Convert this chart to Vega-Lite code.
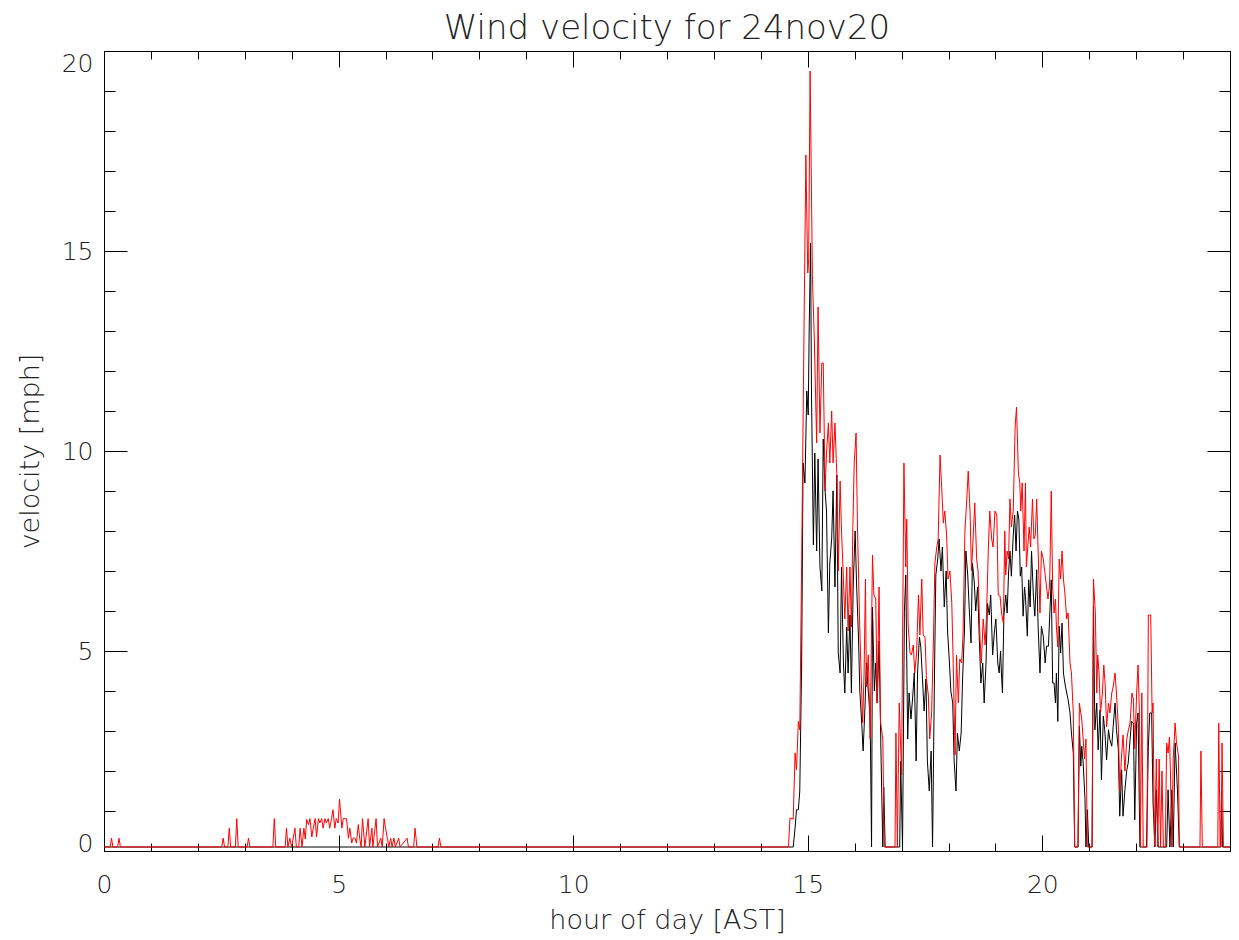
{
"$schema": "https://vega.github.io/schema/vega-lite/v6.json",
"width": 1126, "height": 800,
"autosize": "none",
"padding": {"left": 104, "top": 51, "right": 9, "bottom": 89},
"background": "white",
"title": {"text": "Wind velocity for 24nov20", "fontSize": 34, "font": "DejaVu Sans", "fontWeight": 200, "color": "#222", "offset": 5, "anchor": "middle"},
"config": {"view": {"stroke": null}, "axis": {"grid": false, "domainColor": "#000", "tickColor": "#000", "domainWidth": 1, "tickWidth": 1, "labelFont": "DejaVu Sans", "titleFont": "DejaVu Sans", "labelFontSize": 25, "titleFontSize": 27, "labelColor": "#222", "titleColor": "#222", "titleFontWeight": 200, "labelFontWeight": 200}},
"datasets": {
"mean": [
{"h":0,"v":0.1},{"h":14.69,"v":0.1},{"h":14.73,"v":0.58},{"h":14.76,"v":1.03},{"h":14.8,"v":1.03},{"h":14.83,"v":1.5},{"h":14.87,"v":4.7},{"h":14.9,"v":9.7},{"h":14.94,"v":9.2},{"h":14.98,"v":11.5},{"h":15.01,"v":10.9},{"h":15.03,"v":13.0},{"h":15.06,"v":15.2},{"h":15.08,"v":11.4},{"h":15.12,"v":7.65},{"h":15.15,"v":9.95},{"h":15.19,"v":7.5},{"h":15.22,"v":9.8},{"h":15.26,"v":7.1},{"h":15.3,"v":6.5},{"h":15.33,"v":10.3},{"h":15.37,"v":9.0},{"h":15.4,"v":8.5},{"h":15.44,"v":5.45},{"h":15.47,"v":7.2},{"h":15.51,"v":7.8},{"h":15.54,"v":9.0},{"h":15.58,"v":6.6},{"h":15.62,"v":9.4},{"h":15.65,"v":4.95},{"h":15.69,"v":4.45},{"h":15.72,"v":7.1},{"h":15.76,"v":4.7},{"h":15.79,"v":3.95},{"h":15.83,"v":5.6},{"h":15.86,"v":4.45},{"h":15.9,"v":5.9},{"h":15.93,"v":3.95},{"h":15.97,"v":6.7},{"h":16.01,"v":8.0},{"h":16.04,"v":6.7},{"h":16.08,"v":5.4},{"h":16.11,"v":4.0},{"h":16.15,"v":3.2},{"h":16.18,"v":2.5},{"h":16.22,"v":3.6},{"h":16.25,"v":4.7},{"h":16.29,"v":4.0},{"h":16.33,"v":3.4},{"h":16.36,"v":0.1},{"h":16.38,"v":6.1},{"h":16.42,"v":4.0},{"h":16.45,"v":4.7},{"h":16.48,"v":3.7},{"h":16.52,"v":5.25},{"h":16.56,"v":2.5},{"h":16.6,"v":0.1},{"h":16.62,"v":1.6},{"h":16.65,"v":0.1},{"h":16.96,"v":0.1},{"h":16.98,"v":2.25},{"h":17.02,"v":0.1},{"h":17.06,"v":6.0},{"h":17.09,"v":6.9},{"h":17.13,"v":2.8},{"h":17.16,"v":3.95},{"h":17.2,"v":3.3},{"h":17.24,"v":3.9},{"h":17.27,"v":4.45},{"h":17.31,"v":2.25},{"h":17.34,"v":4.45},{"h":17.38,"v":5.35},{"h":17.41,"v":5.1},{"h":17.45,"v":4.2},{"h":17.48,"v":3.5},{"h":17.52,"v":4.3},{"h":17.55,"v":2.25},{"h":17.59,"v":1.5},{"h":17.63,"v":2.5},{"h":17.66,"v":0.1},{"h":17.7,"v":4.3},{"h":17.73,"v":6.9},{"h":17.77,"v":7.3},{"h":17.8,"v":7.8},{"h":17.84,"v":7.0},{"h":17.87,"v":7.6},{"h":17.91,"v":6.1},{"h":17.95,"v":7.0},{"h":17.98,"v":5.5},{"h":18.02,"v":4.7},{"h":18.05,"v":4.0},{"h":18.09,"v":3.7},{"h":18.12,"v":2.25},{"h":18.16,"v":1.5},{"h":18.19,"v":2.95},{"h":18.23,"v":2.5},{"h":18.27,"v":2.95},{"h":18.3,"v":4.3},{"h":18.34,"v":5.5},{"h":18.37,"v":7.5},{"h":18.41,"v":6.9},{"h":18.44,"v":6.1},{"h":18.48,"v":5.2},{"h":18.51,"v":7.2},{"h":18.55,"v":6.7},{"h":18.58,"v":6.0},{"h":18.62,"v":6.6},{"h":18.66,"v":5.2},{"h":18.69,"v":4.2},{"h":18.73,"v":4.7},{"h":18.76,"v":3.7},{"h":18.8,"v":4.7},{"h":18.83,"v":6.2},{"h":18.87,"v":5.9},{"h":18.9,"v":6.4},{"h":18.94,"v":4.9},{"h":18.98,"v":5.5},{"h":19.01,"v":5.8},{"h":19.05,"v":4.7},{"h":19.08,"v":4.45},{"h":19.11,"v":5.0},{"h":19.13,"v":4.4},{"h":19.15,"v":3.95},{"h":19.18,"v":5.87},{"h":19.22,"v":6.4},{"h":19.25,"v":5.95},{"h":19.28,"v":6.95},{"h":19.31,"v":7.5},{"h":19.34,"v":6.87},{"h":19.38,"v":7.9},{"h":19.41,"v":8.4},{"h":19.44,"v":7.5},{"h":19.47,"v":8.5},{"h":19.5,"v":8.3},{"h":19.53,"v":6.87},{"h":19.56,"v":7.1},{"h":19.59,"v":5.87},{"h":19.62,"v":6.6},{"h":19.64,"v":6.37},{"h":19.68,"v":5.37},{"h":19.71,"v":6.78},{"h":19.74,"v":6.1},{"h":19.77,"v":7.5},{"h":19.81,"v":6.37},{"h":19.84,"v":5.87},{"h":19.88,"v":7.03},{"h":19.91,"v":5.62},{"h":19.95,"v":4.45},{"h":19.98,"v":5.62},{"h":20.02,"v":5.37},{"h":20.06,"v":4.7},{"h":20.09,"v":5.12},{"h":20.13,"v":5.12},{"h":20.16,"v":5.95},{"h":20.19,"v":6.78},{"h":20.22,"v":4.2},{"h":20.25,"v":4.2},{"h":20.28,"v":3.7},{"h":20.3,"v":4.45},{"h":20.33,"v":3.24},{"h":20.36,"v":5.62},{"h":20.39,"v":4.95},{"h":20.42,"v":5.7},{"h":20.45,"v":4.45},{"h":20.48,"v":4.2},{"h":20.52,"v":3.95},{"h":20.55,"v":3.78},{"h":20.59,"v":3.45},{"h":20.62,"v":2.95},{"h":20.66,"v":2.45},{"h":20.69,"v":0.1},{"h":20.76,"v":0.1},{"h":20.79,"v":3.12},{"h":20.82,"v":2.12},{"h":20.84,"v":2.62},{"h":20.87,"v":2.2},{"h":20.91,"v":1.28},{"h":20.93,"v":0.1},{"h":20.96,"v":1.03},{"h":20.99,"v":0.1},{"h":21.06,"v":0.1},{"h":21.09,"v":6.12},{"h":21.12,"v":3.03},{"h":21.16,"v":3.7},{"h":21.19,"v":2.53},{"h":21.23,"v":3.53},{"h":21.26,"v":1.78},{"h":21.3,"v":3.37},{"h":21.33,"v":3.03},{"h":21.37,"v":2.28},{"h":21.41,"v":3.03},{"h":21.44,"v":2.78},{"h":21.48,"v":2.62},{"h":21.51,"v":3.12},{"h":21.55,"v":3.7},{"h":21.58,"v":3.03},{"h":21.62,"v":2.53},{"h":21.65,"v":0.87},{"h":21.69,"v":2.03},{"h":21.72,"v":0.87},{"h":21.76,"v":1.53},{"h":21.8,"v":2.03},{"h":21.83,"v":2.2},{"h":21.87,"v":2.78},{"h":21.9,"v":3.24},{"h":21.94,"v":3.2},{"h":21.97,"v":0.78},{"h":22.01,"v":3.2},{"h":22.04,"v":3.45},{"h":22.08,"v":0.1},{"h":22.22,"v":0.1},{"h":22.26,"v":2.62},{"h":22.29,"v":3.45},{"h":22.33,"v":3.45},{"h":22.36,"v":1.2},{"h":22.4,"v":0.1},{"h":22.43,"v":1.53},{"h":22.47,"v":0.1},{"h":22.65,"v":0.1},{"h":22.68,"v":1.53},{"h":22.72,"v":0.1},{"h":22.76,"v":1.53},{"h":22.79,"v":0.1},{"h":22.83,"v":2.7},{"h":22.88,"v":1.53},{"h":22.92,"v":0.1},{"h":23.8,"v":0.1},{"h":23.82,"v":1.5},{"h":23.84,"v":0.1},{"h":24.0,"v":0.1}
],
"gust": [
{"h":0,"v":0.1},{"h":0.13,"v":0.1},{"h":0.16,"v":0.32},{"h":0.19,"v":0.1},{"h":0.29,"v":0.1},{"h":0.32,"v":0.32},{"h":0.35,"v":0.1},{"h":2.51,"v":0.1},{"h":2.54,"v":0.32},{"h":2.57,"v":0.1},{"h":2.64,"v":0.1},{"h":2.67,"v":0.57},{"h":2.7,"v":0.1},{"h":2.8,"v":0.1},{"h":2.83,"v":0.81},{"h":2.86,"v":0.1},{"h":3.05,"v":0.1},{"h":3.08,"v":0.32},{"h":3.11,"v":0.1},{"h":3.6,"v":0.1},{"h":3.63,"v":0.81},{"h":3.66,"v":0.1},{"h":3.86,"v":0.1},{"h":3.89,"v":0.57},{"h":3.92,"v":0.1},{"h":3.96,"v":0.32},{"h":4.0,"v":0.1},{"h":4.07,"v":0.57},{"h":4.1,"v":0.1},{"h":4.15,"v":0.1},{"h":4.18,"v":0.57},{"h":4.22,"v":0.1},{"h":4.26,"v":0.57},{"h":4.29,"v":0.3},{"h":4.32,"v":0.79},{"h":4.36,"v":0.66},{"h":4.39,"v":0.81},{"h":4.43,"v":0.35},{"h":4.46,"v":0.57},{"h":4.5,"v":0.81},{"h":4.53,"v":0.35},{"h":4.57,"v":0.81},{"h":4.6,"v":0.7},{"h":4.64,"v":0.81},{"h":4.67,"v":0.57},{"h":4.71,"v":0.81},{"h":4.74,"v":0.7},{"h":4.78,"v":0.81},{"h":4.81,"v":0.57},{"h":4.85,"v":0.81},{"h":4.88,"v":1.03},{"h":4.92,"v":0.57},{"h":4.95,"v":0.81},{"h":4.99,"v":0.7},{"h":5.02,"v":1.3},{"h":5.07,"v":0.57},{"h":5.1,"v":0.81},{"h":5.14,"v":0.81},{"h":5.17,"v":0.81},{"h":5.21,"v":0.32},{"h":5.24,"v":0.57},{"h":5.28,"v":0.2},{"h":5.31,"v":0.32},{"h":5.35,"v":0.32},{"h":5.38,"v":0.2},{"h":5.42,"v":0.66},{"h":5.45,"v":0.32},{"h":5.48,"v":0.1},{"h":5.51,"v":0.81},{"h":5.56,"v":0.1},{"h":5.63,"v":0.81},{"h":5.66,"v":0.1},{"h":5.71,"v":0.57},{"h":5.73,"v":0.1},{"h":5.8,"v":0.81},{"h":5.83,"v":0.1},{"h":5.9,"v":0.32},{"h":5.93,"v":0.1},{"h":5.97,"v":0.81},{"h":6.0,"v":0.57},{"h":6.04,"v":0.32},{"h":6.07,"v":0.1},{"h":6.11,"v":0.32},{"h":6.14,"v":0.1},{"h":6.18,"v":0.32},{"h":6.21,"v":0.1},{"h":6.28,"v":0.32},{"h":6.31,"v":0.1},{"h":6.46,"v":0.32},{"h":6.49,"v":0.1},{"h":6.6,"v":0.1},{"h":6.63,"v":0.57},{"h":6.67,"v":0.1},{"h":7.12,"v":0.1},{"h":7.15,"v":0.32},{"h":7.18,"v":0.1},{"h":14.59,"v":0.1},
{"h":14.62,"v":0.82},{"h":14.69,"v":0.8},{"h":14.73,"v":2.45},{"h":14.76,"v":2.03},{"h":14.8,"v":3.24},{"h":14.83,"v":3.03},{"h":14.87,"v":7.2},{"h":14.92,"v":13.0},{"h":14.96,"v":17.4},{"h":15.0,"v":14.45},{"h":15.02,"v":14.8},{"h":15.05,"v":19.5},{"h":15.1,"v":14.3},{"h":15.14,"v":12.8},{"h":15.19,"v":10.2},{"h":15.22,"v":13.6},{"h":15.26,"v":10.45},{"h":15.3,"v":12.2},{"h":15.33,"v":12.2},{"h":15.37,"v":9.0},{"h":15.4,"v":9.95},{"h":15.44,"v":10.7},{"h":15.47,"v":9.7},{"h":15.51,"v":11.0},{"h":15.54,"v":9.7},{"h":15.58,"v":10.7},{"h":15.62,"v":9.4},{"h":15.65,"v":7.0},{"h":15.69,"v":9.25},{"h":15.72,"v":8.0},{"h":15.76,"v":6.8},{"h":15.79,"v":5.8},{"h":15.83,"v":7.1},{"h":15.86,"v":5.5},{"h":15.9,"v":7.1},{"h":15.93,"v":5.6},{"h":15.96,"v":8.0},{"h":15.99,"v":9.7},{"h":16.03,"v":10.45},{"h":16.06,"v":8.1},{"h":16.1,"v":6.0},{"h":16.13,"v":4.7},{"h":16.17,"v":3.2},{"h":16.2,"v":4.4},{"h":16.23,"v":6.8},{"h":16.25,"v":4.1},{"h":16.29,"v":4.9},{"h":16.33,"v":2.8},{"h":16.38,"v":7.4},{"h":16.41,"v":6.4},{"h":16.45,"v":6.3},{"h":16.48,"v":3.7},{"h":16.52,"v":6.6},{"h":16.55,"v":3.24},{"h":16.6,"v":2.8},{"h":16.63,"v":0.1},{"h":16.86,"v":0.1},{"h":16.88,"v":2.95},{"h":16.91,"v":0.1},{"h":16.95,"v":3.7},{"h":17.0,"v":1.9},{"h":17.05,"v":9.7},{"h":17.09,"v":7.1},{"h":17.11,"v":8.3},{"h":17.14,"v":5.65},{"h":17.18,"v":4.95},{"h":17.21,"v":4.9},{"h":17.25,"v":5.15},{"h":17.28,"v":4.45},{"h":17.32,"v":4.95},{"h":17.36,"v":6.4},{"h":17.39,"v":5.4},{"h":17.43,"v":6.8},{"h":17.46,"v":5.4},{"h":17.5,"v":5.35},{"h":17.53,"v":4.3},{"h":17.57,"v":3.9},{"h":17.6,"v":2.8},{"h":17.64,"v":3.45},{"h":17.68,"v":5.35},{"h":17.71,"v":7.2},{"h":17.75,"v":7.6},{"h":17.78,"v":7.8},{"h":17.82,"v":9.9},{"h":17.85,"v":9.2},{"h":17.89,"v":8.2},{"h":17.92,"v":8.5},{"h":17.96,"v":7.9},{"h":17.99,"v":6.8},{"h":18.03,"v":7.0},{"h":18.07,"v":6.2},{"h":18.1,"v":4.7},{"h":18.14,"v":2.4},{"h":18.17,"v":4.9},{"h":18.21,"v":3.7},{"h":18.24,"v":4.8},{"h":18.28,"v":4.7},{"h":18.31,"v":5.4},{"h":18.35,"v":8.0},{"h":18.39,"v":8.8},{"h":18.42,"v":9.5},{"h":18.46,"v":8.45},{"h":18.49,"v":7.0},{"h":18.53,"v":7.95},{"h":18.56,"v":8.7},{"h":18.6,"v":7.3},{"h":18.63,"v":7.0},{"h":18.67,"v":5.35},{"h":18.7,"v":4.7},{"h":18.74,"v":5.8},{"h":18.78,"v":5.15},{"h":18.81,"v":5.9},{"h":18.85,"v":7.6},{"h":18.88,"v":8.5},{"h":18.92,"v":7.8},{"h":18.95,"v":7.6},{"h":18.99,"v":8.5},{"h":19.03,"v":8.4},{"h":19.06,"v":6.4},{"h":19.1,"v":6.37},{"h":19.13,"v":5.95},{"h":19.17,"v":5.7},{"h":19.2,"v":8.0},{"h":19.22,"v":6.9},{"h":19.25,"v":7.5},{"h":19.28,"v":7.3},{"h":19.31,"v":8.8},{"h":19.34,"v":8.1},{"h":19.38,"v":8.5},{"h":19.42,"v":10.6},{"h":19.45,"v":11.1},{"h":19.49,"v":9.45},{"h":19.52,"v":9.2},{"h":19.54,"v":8.5},{"h":19.57,"v":9.2},{"h":19.61,"v":7.5},{"h":19.64,"v":9.2},{"h":19.66,"v":7.1},{"h":19.69,"v":7.6},{"h":19.72,"v":8.1},{"h":19.75,"v":7.6},{"h":19.79,"v":8.8},{"h":19.82,"v":7.8},{"h":19.85,"v":7.9},{"h":19.88,"v":8.8},{"h":19.91,"v":7.5},{"h":19.95,"v":5.95},{"h":19.98,"v":7.5},{"h":20.02,"v":7.3},{"h":20.06,"v":6.9},{"h":20.09,"v":6.6},{"h":20.12,"v":6.3},{"h":20.15,"v":6.6},{"h":20.16,"v":6.9},{"h":20.19,"v":9.0},{"h":20.22,"v":6.6},{"h":20.25,"v":5.95},{"h":20.28,"v":6.3},{"h":20.3,"v":5.6},{"h":20.33,"v":5.1},{"h":20.36,"v":7.3},{"h":20.39,"v":6.8},{"h":20.42,"v":7.5},{"h":20.45,"v":6.8},{"h":20.48,"v":6.45},{"h":20.52,"v":5.8},{"h":20.55,"v":5.95},{"h":20.59,"v":4.7},{"h":20.62,"v":4.45},{"h":20.66,"v":3.45},{"h":20.69,"v":0.1},{"h":20.76,"v":0.1},{"h":20.79,"v":3.7},{"h":20.82,"v":3.45},{"h":20.84,"v":3.3},{"h":20.87,"v":2.8},{"h":20.9,"v":2.3},{"h":20.93,"v":2.8},{"h":20.96,"v":0.1},{"h":21.06,"v":0.1},{"h":21.09,"v":6.8},{"h":21.13,"v":5.95},{"h":21.16,"v":3.95},{"h":21.18,"v":4.9},{"h":21.21,"v":4.45},{"h":21.24,"v":3.45},{"h":21.28,"v":3.95},{"h":21.31,"v":4.65},{"h":21.34,"v":4.15},{"h":21.37,"v":3.1},{"h":21.41,"v":3.7},{"h":21.44,"v":3.45},{"h":21.48,"v":3.95},{"h":21.51,"v":4.1},{"h":21.55,"v":4.45},{"h":21.58,"v":3.95},{"h":21.62,"v":3.1},{"h":21.65,"v":1.5},{"h":21.69,"v":2.4},{"h":21.72,"v":2.9},{"h":21.76,"v":2.0},{"h":21.8,"v":2.8},{"h":21.83,"v":3.0},{"h":21.87,"v":3.2},{"h":21.91,"v":3.95},{"h":21.94,"v":3.8},{"h":21.97,"v":2.55},{"h":22.01,"v":3.95},{"h":22.04,"v":4.65},{"h":22.07,"v":3.45},{"h":22.09,"v":0.1},{"h":22.12,"v":3.95},{"h":22.15,"v":0.1},{"h":22.23,"v":0.1},{"h":22.26,"v":5.9},{"h":22.31,"v":5.9},{"h":22.34,"v":3.45},{"h":22.36,"v":3.7},{"h":22.39,"v":0.1},{"h":22.43,"v":2.3},{"h":22.46,"v":0.1},{"h":22.49,"v":2.3},{"h":22.52,"v":0.1},{"h":22.55,"v":2.0},{"h":22.58,"v":0.1},{"h":22.62,"v":0.1},{"h":22.65,"v":2.7},{"h":22.68,"v":2.45},{"h":22.71,"v":2.85},{"h":22.73,"v":2.0},{"h":22.76,"v":0.1},{"h":22.79,"v":2.3},{"h":22.83,"v":3.2},{"h":22.86,"v":2.7},{"h":22.9,"v":2.4},{"h":22.92,"v":0.1},{"h":23.36,"v":0.1},{"h":23.38,"v":2.5},{"h":23.41,"v":0.1},{"h":23.74,"v":0.1},{"h":23.76,"v":3.2},{"h":23.79,"v":0.1},{"h":23.81,"v":0.1},{"h":23.83,"v":2.7},{"h":23.86,"v":0.1},{"h":24.0,"v":0.1}
]
},
"layer": [
{"data": {"name": "mean"}, "mark": {"type": "point", "opacity": 0},
 "encoding": {
  "x": {"field": "h", "type": "quantitative", "scale": {"domain": [0, 24], "nice": false, "zero": false},
        "axis": {"orient": "bottom", "values": [0,1,2,3,4,5,6,7,8,9,10,11,12,13,14,15,16,17,18,19,20,21,22,23,24], "tickSize": -8, "labels": false, "domain": false, "title": null}},
  "y": {"field": "v", "type": "quantitative", "scale": {"domain": [0, 20], "nice": false, "zero": false},
        "axis": {"orient": "left", "values": [0,1,2,3,4,5,6,7,8,9,10,11,12,13,14,15,16,17,18,19,20], "tickSize": -11, "labels": false, "domain": false, "title": null}}}},
{"data": {"name": "mean"}, "mark": {"type": "point", "opacity": 0},
 "encoding": {
  "x": {"field": "h", "type": "quantitative",
        "axis": {"orient": "top", "values": [0,1,2,3,4,5,6,7,8,9,10,11,12,13,14,15,16,17,18,19,20,21,22,23,24], "tickSize": -8, "labels": false, "domain": false, "title": null}},
  "y": {"field": "v", "type": "quantitative",
        "axis": {"orient": "right", "values": [0,1,2,3,4,5,6,7,8,9,10,11,12,13,14,15,16,17,18,19,20], "tickSize": -11, "labels": false, "domain": false, "title": null}}}},
{"data": {"name": "mean"}, "mark": {"type": "line", "color": "#000000", "strokeWidth": 1},
 "encoding": {
  "x": {"field": "h", "type": "quantitative",
        "axis": {"orient": "top", "values": [0,5,10,15,20], "tickSize": -16, "labels": false, "domain": true, "title": null}},
  "y": {"field": "v", "type": "quantitative",
        "axis": {"orient": "right", "values": [0,5,10,15,20], "tickSize": -23, "labels": false, "domain": true, "title": null}}}},
{"data": {"name": "gust"}, "mark": {"type": "line", "color": "#ff0000", "strokeWidth": 1},
 "encoding": {
  "x": {"field": "h", "type": "quantitative",
        "axis": {"orient": "bottom", "values": [0,5,10,15,20], "tickSize": -16, "labelPadding": 37, "labelFlush": false, "domain": true, "title": "hour of day [AST]", "titlePadding": 10}},
  "y": {"field": "v", "type": "quantitative",
        "axis": {"orient": "left", "values": [0,5,10,15,20], "tickSize": -23, "labelPadding": 34, "labelFlush": false,
                 "labelBaseline": {"expr": "datum.value == 0 ? 'alphabetic' : (datum.value == 20 ? 'top' : 'middle')"},
                 "domain": true, "title": "velocity [mph]", "titlePadding": 17}}}}
],
"resolve": {"axis": {"x": "independent", "y": "independent"}}
}
